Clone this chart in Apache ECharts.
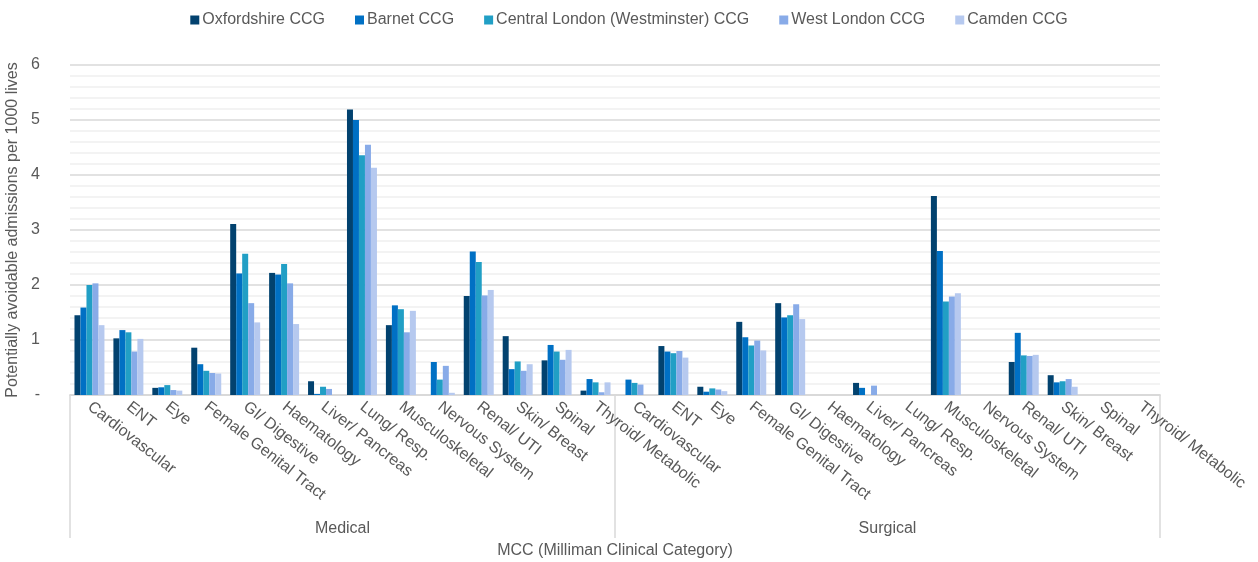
<!DOCTYPE html>
<html>
<head>
<meta charset="utf-8">
<script src="https://cdn.jsdelivr.net/npm/echarts@6/dist/echarts.min.js"></script>
<style>
  html, body { margin: 0; padding: 0; background: #fff; }
  #chart { width: 1258px; height: 562px; }
</style>
</head>
<body>
<div id="chart"></div>
<script>
const groups = ['Medical', 'Surgical']
const mccNames = ['Cardiovascular', 'ENT', 'Eye', 'Female Genital Tract', 'GI/ Digestive', 'Haematology',
  'Liver/ Pancreas', 'Lung/ Resp.', 'Musculoskeletal', 'Nervous System', 'Renal/ UTI', 'Skin/ Breast',
  'Spinal', 'Thyroid/ Metabolic']
const yTicks = [0, 1, 2, 3, 4, 5, 6]

// 14 medical values followed by 14 surgical values
const oxfordshire = [1.45, 1.03, 0.13, 0.86, 3.11, 2.22, 0.25, 5.19, 1.27, 0, 1.80, 1.07, 0.63, 0.08,
  0, 0.89, 0.15, 1.33, 1.67, 0, 0.22, 0, 3.62, 0, 0.60, 0.36, 0, 0]
const barnet = [1.59, 1.18, 0.14, 0.56, 2.21, 2.19, 0.02, 5.00, 1.63, 0.60, 2.61, 0.47, 0.91, 0.29,
  0.28, 0.79, 0.06, 1.05, 1.41, 0, 0.13, 0, 2.62, 0, 1.13, 0.23, 0, 0]
const centralLondon = [2.00, 1.14, 0.18, 0.44, 2.57, 2.38, 0.15, 4.36, 1.56, 0.28, 2.42, 0.61, 0.79, 0.23,
  0.22, 0.76, 0.12, 0.90, 1.45, 0, 0, 0, 1.70, 0, 0.72, 0.25, 0, 0]
const westLondon = [2.03, 0.79, 0.09, 0.40, 1.67, 2.03, 0.11, 4.55, 1.14, 0.53, 1.81, 0.44, 0.64, 0.05,
  0.19, 0.80, 0.10, 0.99, 1.65, 0, 0.17, 0, 1.79, 0, 0.71, 0.29, 0, 0]
const camden = [1.27, 1.02, 0.08, 0.39, 1.32, 1.29, 0, 4.13, 1.53, 0.04, 1.91, 0.56, 0.82, 0.23,
  0, 0.68, 0.07, 0.81, 1.38, 0, 0, 0, 1.85, 0, 0.73, 0.15, 0, 0]

const seriesNames = ['Oxfordshire CCG', 'Barnet CCG', 'Central London (Westminster) CCG', 'West London CCG', 'Camden CCG']
const seriesData = [oxfordshire, barnet, centralLondon, westLondon, camden]
const colors = ['#02426f', '#0070c4', '#219fc5', '#88abe8', '#b6c9ef']

// unique keys so the duplicated names of the two groups stay apart
const categoryKeys = []
groups.forEach(g => mccNames.forEach(n => categoryKeys.push(g + '|' + n)))

const textColor = '#595959'
const fontFamily = 'Liberation Sans, Arial, sans-serif'

const option = {
  animation: false,
  color: colors,
  textStyle: { fontFamily: fontFamily },
  legend: {
    top: 7,
    left: 'center',
    itemWidth: 9,
    itemHeight: 9,
    itemGap: 30,
    icon: 'rect',
    textStyle: { color: textColor, fontSize: 16, padding: [0, 0, 0, -2] },
    data: seriesNames
  },
  grid: {
    left: 70,
    right: 98,
    top: 65,
    bottom: 167,
    outerBoundsMode: 'none'
  },
  xAxis: [
    {
      type: 'category',
      data: categoryKeys,
      axisLine: { show: true, lineStyle: { color: '#d9d9d9', width: 1.5 } },
      axisTick: { show: false },
      axisLabel: {
        interval: 0,
        rotate: -38,
        margin: 10,
        color: textColor,
        fontSize: 16,
        formatter: v => v.split('|')[1]
      }
    },
    {
      type: 'category',
      data: groups,
      position: 'bottom',
      axisLine: { show: true, lineStyle: { color: '#d9d9d9', width: 1.5 } },
      axisTick: { show: true, length: 143, lineStyle: { color: '#d9d9d9', width: 1.5 } },
      axisLabel: { margin: 126, color: textColor, fontSize: 16 },
      name: 'MCC (Milliman Clinical Category)',
      nameLocation: 'middle',
      nameGap: 148,
      nameTextStyle: { color: textColor, fontSize: 16 }
    }
  ],
  yAxis: {
    type: 'value',
    min: yTicks[0],
    max: yTicks[yTicks.length - 1],
    interval: 1,
    name: 'Potentially avoidable admissions per 1000 lives',
    nameLocation: 'middle',
    nameGap: 45,
    nameTextStyle: { color: textColor, fontSize: 16 },
    axisLine: { show: false },
    axisTick: { show: false },
    axisLabel: {
      color: textColor,
      fontSize: 16,
      margin: 30,
      formatter: v => (v === 0 ? '-' : String(v))
    },
    splitLine: { lineStyle: { color: '#d9d9d9', width: 1.5 } },
    minorTick: { show: false, splitNumber: 5 },
    minorSplitLine: { show: true, lineStyle: { color: '#f0f0f0', width: 1.5 } }
  },
  series: seriesNames.map((name, i) => ({
    name: name,
    type: 'bar',
    xAxisIndex: 0,
    barGap: '0%',
    barCategoryGap: '23%',
    data: seriesData[i]
  }))
}

const chart = echarts.init(document.getElementById('chart'))
chart.setOption(option)
</script>
</body>
</html>
